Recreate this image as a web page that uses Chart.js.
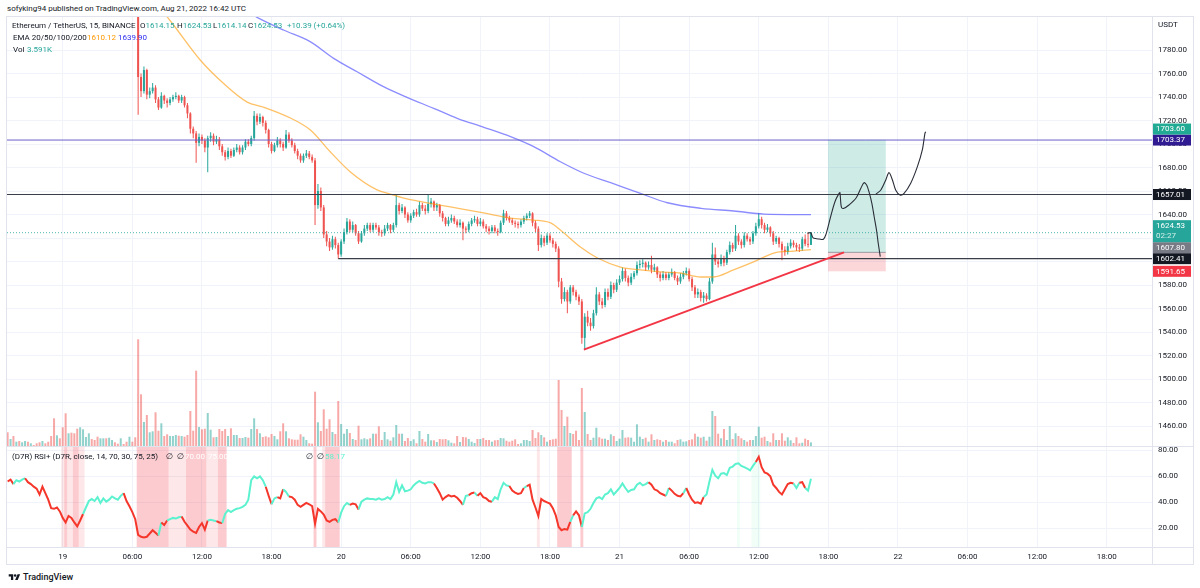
<!DOCTYPE html>
<html>
<head>
<meta charset="utf-8">
<title>ETHUSDT 15m</title>
<script src="https://cdn.jsdelivr.net/npm/chart.js@4.4.1/dist/chart.umd.min.js"></script>
<style>
  html, body { margin: 0; padding: 0; background: #fff; }
  body { position: relative; width: 1200px; height: 588px; overflow: hidden;
         font-family: Roboto, "Open Sans", "DejaVu Sans", sans-serif; color: #131722; }
  canvas { position: absolute; left: 0; }
  .txt { position: absolute; white-space: nowrap; font-size: 8px; line-height: 10px; }
  .up { color: #26a69a; }
  .sep { position: absolute; background: #e0e3eb; }
  #frame { position: absolute; left: 6px; top: 16px; width: 1188px; height: 549px;
           box-sizing: border-box; border: 1px solid #e0e3eb; }
</style>
</head>
<body>
<canvas id="main" width="1200" height="430" style="top:16px"></canvas>
<canvas id="rsi" width="1200" height="120" style="top:446px"></canvas>
<div id="frame"></div>
<div class="sep" style="left:1152px;top:16px;width:1px;height:549px"></div>
<div class="sep" style="left:6px;top:446px;width:1188px;height:1px"></div>
<div class="sep" style="left:6px;top:547px;width:1188px;height:1px"></div>

<div class="txt" style="left:7px;top:4px">sofyking94 published on TradingView.com, Aug 21, 2022 16:42 UTC</div>

<div class="txt" style="left:12px;top:21px">Ethereum / TetherUS, 15, BINANCE</div>
<div class="txt" style="left:140px;top:21px">O<span class="up">1614.15</span></div>
<div class="txt" style="left:177px;top:21px">H<span class="up">1624.53</span></div>
<div class="txt" style="left:213px;top:21px">L<span class="up">1614.14</span></div>
<div class="txt" style="left:248px;top:21px">C<span class="up">1624.53</span></div>
<div class="txt up" style="left:287px;top:21px">+10.39 (+0.64%)</div>

<div class="txt" style="left:13px;top:33px">EMA 20/50/100/200</div>
<div class="txt" style="left:87px;top:33px;color:#ff9800">1610.12</div>
<div class="txt" style="left:118px;top:33px;color:#2f2ff0">1639.90</div>

<div class="txt" style="left:13px;top:45px">Vol</div>
<div class="txt up" style="left:27px;top:45px">3.591K</div>

<div class="txt" style="left:1158px;top:20px">USDT</div>

<div class="txt" style="left:12px;top:452px">(D7R) RSI+ (D7R, close, 14, 70, 30, 75, 25)</div>
<div class="txt" style="left:166px;top:452px">&#8709;&nbsp;&nbsp;&#8709;</div>
<div class="txt" style="left:185px;top:452px;color:#fff">70.00</div>
<div class="txt" style="left:208px;top:452px;color:#fff">75.00</div>
<div class="txt" style="left:306px;top:452px">&#8709;&nbsp;&nbsp;&#8709;</div>
<div class="txt" style="left:325px;top:452px;color:#5cf2cf">58.17</div>

<svg style="position:absolute;left:8px;top:573px" width="13" height="9" viewBox="0 0 36 28">
  <path d="M14 22H7V11H0V4h14v18zM28 22h-8l7.5-18h8L28 22z" fill="#131722"/>
  <circle cx="20" cy="8" r="4" fill="#131722"/>
</svg>
<div class="txt" style="left:23px;top:572px;font-size:9px;font-weight:500">TradingView</div>

<script>
// 15 minute bars, bar 0 = Aug 18 19:15 UTC, last bar = Aug 21 16:30 UTC
const firstOpen = 1860;
const closes = [
  1858,1861,1857,1860,1858,1861,1863,1858,1859,1855,
  1852,1846,1851,1847,1842,1835,1834,1836,1832,1828,
  1823,1827,1825,1821,1817,1822,1827,1832,1837,1835,
  1833,1832,1836,1838,1835,1838,1841,1838,1836,1840,
  1837,1833,1835,1828,1822,1757,1745,1763,1742,1745,
  1748,1738,1731,1741,1737,1735,1738,1740,1741,1737,
  1740,1733,1726,1713,1709,1701,1706,1703,1697,1705,
  1707,1702,1704,1698,1693,1689,1694,1690,1695,1697,
  1693,1697,1702,1700,1705,1724,1719,1723,1718,1712,
  1700,1694,1699,1703,1700,1697,1708,1703,1699,1694,
  1690,1686,1690,1692,1689,1686,1648,1660,1646,1623,
  1617,1612,1619,1614,1606,1617,1625,1634,1627,1631,
  1624,1617,1624,1628,1631,1627,1631,1629,1625,1624,
  1628,1631,1627,1631,1648,1643,1646,1640,1635,1639,
  1642,1640,1648,1645,1643,1649,1651,1646,1648,1641,
  1637,1632,1635,1637,1634,1631,1633,1628,1627,1632,
  1635,1636,1632,1634,1630,1628,1626,1629,1626,1625,
  1633,1641,1637,1635,1633,1632,1631,1634,1637,1639,
  1641,1633,1628,1614,1620,1616,1622,1618,1615,1611,
  1583,1568,1574,1566,1578,1574,1570,1566,1535,1553,
  1548,1545,1556,1572,1566,1563,1574,1570,1580,1576,
  1582,1585,1592,1586,1582,1587,1590,1597,1598,1599,
  1595,1597,1593,1595,1589,1586,1589,1586,1589,1591,
  1586,1583,1587,1590,1592,1585,1578,1572,1574,1569,
  1571,1568,1583,1606,1600,1598,1603,1599,1608,1614,
  1611,1622,1617,1614,1622,1619,1617,1624,1630,1636,
  1631,1627,1629,1624,1617,1620,1615,1610,1608,1613,
  1616,1614,1612,1611,1619,1615,1614.15,1624.53
];
const highs = [
  1863,1864,1863,1862,1862,1863,1867,1865,1862,1861,
  1857,1853,1853,1852,1849,1843,1837,1839,1838,1834,
  1830,1829,1829,1827,1823,1824,1829,1834,1839,1840,
  1837,1835,1838,1841,1840,1840,1844,1843,1840,1842,
  1842,1839,1838,1836,1830,1826,1760,1766,1764,1748,
  1752,1750,1740,1744,1742,1739,1740,1742,1744,1742,
  1742,1741,1735,1727,1715,1711,1709,1708,1705,1707,
  1710,1709,1707,1706,1700,1695,1697,1696,1697,1700,
  1699,1699,1704,1704,1707,1728,1726,1726,1724,1720,
  1713,1702,1701,1706,1705,1702,1712,1710,1705,1701,
  1696,1692,1692,1695,1694,1691,1688,1666,1663,1648,
  1626,1620,1622,1621,1616,1619,1628,1637,1636,1634,
  1632,1626,1626,1631,1633,1633,1633,1633,1631,1627,
  1631,1633,1632,1633,1656.5,1650,1649,1647,1642,1641,
  1644,1645,1651,1650,1648,1657,1654,1652,1650,1649,
  1643,1638,1638,1640,1639,1636,1636,1634,1630,1634,
  1637,1639,1638,1637,1636,1632,1630,1631,1631,1628,
  1635,1644,1643,1639,1637,1635,1634,1636,1639,1641,
  1643,1642,1635,1630,1623,1622,1624,1624,1620,1617,
  1613,1586,1578,1576,1580,1580,1576,1572,1568,1556,
  1558,1552,1559,1578,1574,1569,1577,1577,1583,1582,
  1585,1588,1595,1594,1588,1590,1592,1600,1601,1602,
  1600,1600,1605,1598,1596,1591,1592,1591,1591,1594,
  1592,1588,1590,1592,1595,1594,1587,1580,1577,1576,
  1574,1573,1586,1616,1612,1603,1606,1605,1610,1617,
  1616,1631,1624,1619,1625,1624,1621,1626,1633,1641,
  1638,1633,1632,1630,1626,1622,1621,1617,1613,1616,
  1619,1618,1616,1615,1621,1623,1625,1624.53
];
const lows = [
  1855,1856,1855,1855,1856,1856,1859,1856,1855,1853,
  1849,1843,1844,1845,1840,1831,1830,1832,1829,1825,
  1820,1821,1822,1818,1808,1815,1820,1825,1830,1833,
  1831,1829,1830,1834,1833,1833,1836,1836,1834,1834,
  1835,1830,1831,1825,1818,1725,1740,1743,1738,1739,
  1743,1735,1729,1730,1734,1731,1733,1736,1738,1735,
  1735,1731,1722,1709,1705,1684,1698,1700,1693,1676,
  1702,1699,1700,1695,1690,1686,1687,1688,1689,1693,
  1691,1691,1695,1698,1698,1703,1716,1717,1715,1709,
  1697,1692,1693,1697,1697,1694,1696,1701,1697,1692,
  1687,1684,1684,1688,1687,1684,1631,1645,1643,1620,
  1613,1609,1610,1611,1602.4,1604,1615,1623,1625,1625,
  1622,1615,1616,1622,1626,1625,1625,1627,1622,1621,
  1622,1626,1624,1625,1629,1640,1641,1637,1633,1633,
  1637,1638,1638,1643,1640,1641,1646,1643,1643,1638,
  1634,1630,1630,1633,1632,1629,1629,1618,1624,1625,
  1630,1633,1630,1630,1628,1625,1623,1624,1624,1622,
  1624,1631,1635,1633,1631,1629,1628,1629,1632,1635,
  1637,1630,1625,1609,1612,1613,1614,1616,1612,1608,
  1578,1564,1566,1556,1564,1571,1567,1563,1530,1525,
  1545,1541,1543,1554,1563,1560,1561,1567,1568,1573,
  1574,1580,1583,1583,1579,1580,1585,1588,1594,1595,
  1592,1593,1590,1591,1586,1583,1584,1584,1584,1587,
  1584,1580,1581,1585,1588,1583,1575,1569,1569,1566,
  1565,1566,1567,1581,1597,1595,1596,1596,1597,1606,
  1608,1609,1614,1611,1612,1617,1614,1615,1622,1628,
  1628,1624,1625,1621,1614,1615,1612,1601,1605,1606,
  1611,1612,1609,1608,1609,1613,1612,1614.14
];
// volume in thousands of ETH
const volumes = [
  13.7,7,10,4.3,5,3.7,5,4.3,2.7,1,
  2.7,3.7,5,2.7,4.3,10,27.7,10.7,7.7,18.7,
  32.7,12.7,13.3,12.7,17.3,18.7,16.7,9,12.7,7,
  6,9.3,7.7,7.7,7.7,8.3,6,3.7,2.3,7.7,
  2,4.3,9.3,4.3,8.7,106.7,51.7,24,31,13.7,
  14.7,33.7,15.3,22.7,10,11.7,10,10,11,10.3,
  10,9.3,11,35,15.3,75.3,19,16.7,17.3,33,
  16.3,8.7,9,17,15,17,10,17.7,11,11,
  8,8,9,8.3,17,27.7,17,12.7,9,9.7,
  8.7,12,10,6.7,14.7,22.7,14.7,7.7,6.7,6.3,
  6.3,11.7,9.3,6,2.7,2.3,54.3,23.7,15,36.7,
  17.3,26.7,14,12,45,22,12.3,17,13,7,
  6,20.3,6.7,7.7,6.7,7.7,12.3,12.3,19.7,6,
  14,6.7,5.3,8.7,21,12.3,12.3,5,8,5,
  6.7,2.7,15,7,4.3,12,5.7,5.7,4,7,
  6.7,7,5.7,3.3,2.7,10,4,9,8.7,7,
  4.3,3,7,7,8,6,6,4.3,5.7,6,
  8,7.7,5.3,4.3,5.3,6.7,2,2.7,6,6,
  5,16,8,13.7,11,8.7,4.3,6,6.7,7.3,
  66,36,20,29.3,13,12,15.3,6,58,34,
  12,6,8.3,18.3,8.7,7.3,7.3,6,11.7,10,
  5,7.3,16,8.3,8.7,8.3,4.3,21.7,9.3,7,
  8.3,4.3,11.7,6,6.7,6,4.3,6,4.3,4.3,
  2.7,6,6.7,4.3,4.7,6,6.7,12.3,9.3,8.3,
  9.3,5.3,9.3,35,30,12.3,7.7,17,6,20,
  7,12.7,10,7.7,6,4.3,6,6,10,19.3,
  8.3,9.3,5,3.7,12.7,6,6,12.7,5.3,8.7,
  5.7,3,8.7,2.7,3.3,7.3,6,3.591
];
const rsiValues = [
  56,57.5,54,57,56,57.5,58.5,55.5,54,52,
  50.5,46,52,47,42,35.5,35,36,33,28,
  24.5,29.5,28,24.5,21.5,26,31,36,41,42.5,
  41,44,39.5,43,40.5,42,44.5,43,42,45,
  47,41,37,32.5,27,15,13.5,13,13.5,16,
  18.5,16.5,14.5,24.5,22.5,26,27,28,27.5,28.5,
  29,25,22,19,17.5,16.5,21,24,19,26,
  26.5,26,25.5,24.5,24,31,34,32.5,34,35,
  35.5,36.5,38,42,57,60,58.5,60,57,52,
  45,38.5,43,44,43,50,48,44.5,44,42,
  38,36.5,38,39.5,38.5,37,23.5,35,33,30.5,
  26,25,26.5,27,24.5,32,37,39.5,38,39,
  38.5,34.5,40.5,42,43,42.5,42.5,42,43,42,
  42.5,44,42.5,46,55.5,48,53,48.5,49,50,
  53,55,56.5,55,54.5,55.5,55.5,54.5,51,47,
  42,44,45.5,44.5,45,43.5,41,38,45,45.5,
  47,47.5,45,47,44,43,41,40.5,44,42.5,
  50,55,53,52.5,49,47.5,46.5,47,51,52.5,
  53.5,42,36,29.5,42.5,41,40,39,35.5,30,
  21,18.5,19.5,19,25,30,33,30,21,31.5,
  32.5,35,39.5,43,44,42.5,46,47,50,46,
  48.5,51,54.5,51,48,49.5,50,53.5,55,53,
  54,55.5,53.5,50,49,47,46,45,51,49,
  46.5,45,44.5,47,51,46,42,39.5,40,39,
  44,46,56,65,60.5,58.5,62,62.5,61,66.5,
  67.5,69.5,70,68,67,66,64.5,68,71,75,
  67,63,62,60,53.5,51,48,46,50,54,
  55,54.5,51,55,55.5,51,49,58.17
];
// bar ranges where the RSI line is drawn red (falling)
const rsiRedRanges = [[1,2],[7,26],[41,52],[54,55],[61,66],[67,69],[73,74],[90,91],[94,95],
  [98,114],[119,121],[148,157],[160,161],[163,167],[174,178],[180,194],[196,198],
  [222,227],[229,233],[235,240],[259,271],[274,275]];
// highlighted RSI zones: [first bar, last bar, kind] 1 = light red, 2 = red, 3 = light green
const rsiBands = [[19,19,1],[20,20,2],[21,22,1],[23,24,2],[25,26,1],[45,55,2],[56,61,1],
  [62,68,2],[69,72,1],[73,75,2],[106,106,2],[109,109,1],[110,114,2],[183,183,1],
  [190,194,2],[198,198,2],[252,252,3],[257,259,3]];

// moving averages: [bar, price]
const emaFast = [[52.6,1815.7],[57.2,1801.3],[66.4,1771.5],[74.3,1751.9],[82.6,1735.7],[88.1,1731.5],
  [97.5,1722.1],[104.4,1711.9],[111.3,1693.2],[118.2,1676.2],[127.4,1660.9],[132.0,1657.4],
  [137.7,1653.2],[143.3,1650.6],[152.7,1646.4],[164.1,1641.3],[173.4,1637.0],[181.3,1635.3],
  [187.2,1632.8],[190.6,1626.8],[197.5,1612.3],[203.4,1603.0],[211.3,1595.3],[218.2,1592.8],
  [225.1,1591.1],[232.0,1590.2],[238.9,1586.8],[243.4,1586.8],[250.3,1592.8],[257.2,1599.6],
  [264.2,1607.2],[271.0,1608.9],[277,1610.12]];
const emaSlow = [[81.9,1813.6],[86.0,1807.8],[95.1,1797.0],[104.3,1787.1],[112.4,1772.9],[120.5,1761.5],
  [129.6,1748.8],[137.7,1739.7],[146.9,1730.4],[155.0,1721.9],[164.2,1714.2],[173.4,1706.2],
  [181.4,1697.7],[190.6,1684.9],[198.7,1675.1],[207.9,1667.1],[218.2,1658.0],[227.5,1650.0],
  [239.1,1645.3],[250.4,1643.0],[260.8,1640.4],[277,1639.9]];

// drawings
const trendLine = [[198.7,1525.0],[288.4,1607.8]];
const brushA = [[275.8,1624.0],[276.9,1624.5],[277.5,1621.1],[278.0,1619.7],[279.8,1619.1],[281.3,1618.9],
  [282.1,1622.6],[283.2,1632.5],[284.4,1643.8],[285.5,1652.3],[286.7,1658.0],[287.0,1658.6],
  [287.3,1649.5],[287.6,1645.8],[288.4,1645.3],[290.1,1648.1],[292.5,1653.8],[294.2,1662.3],
  [295.3,1667.1],[296.2,1665.1],[297.0,1659.4],[298.0,1649.5],[298.8,1638.1],[299.6,1626.8],
  [300.2,1615.5],[300.9,1604.1]];
const brushB = [[299.4,1657.4],[301.1,1660.9],[302.8,1669.4],[303.9,1675.6],[305.1,1669.4],[306.2,1660.9],
  [307.7,1656.6],[309.1,1658.0],[311.4,1666.6],[313.7,1680.7],[315.4,1694.9],[316.3,1709.1],[316.6,1710.5]];
const resistanceA = 1703.37;
const resistanceB = 1657.01;
const supportLevel = 1602.41;
const supportStartBar = 114;
const lastPrice = 1624.53;
const positionBars = [282.9, 302.8];
const positionStop = 1591.65, positionEntry = 1607.80, positionTarget = 1703.60;

const priceTicks = [1460,1480,1500,1520,1540,1560,1580,1600,1620,1640,1660,1680,1700,1720,1740,1760,1780];
const rsiTicks = [20,40,60,80];
const timeTickBars = [19,43,67,91,115,139,163,187,211,235,259,283,307,331,355,379];
const timeTickLabels = ['19','06:00','12:00','18:00','20','06:00','12:00','18:00','21','06:00','12:00','18:00','22','06:00','12:00','18:00'];

const axisTags = [
  { price: 1703.60, text: '1703.60', bg: '#22ab94' },
  { price: 1703.37, text: '1703.37', bg: '#311b92' },
  { price: 1657.01, text: '1657.01', bg: '#131722' },
  { price: 1624.53, text: '1624.53', sub: '02:27', bg: '#26a69a' },
  { price: 1607.80, text: '1607.80', bg: '#787b86' },
  { price: 1602.41, text: '1602.41', bg: '#131722' },
  { price: 1591.65, text: '1591.65', bg: '#f23645' }
];

const UP = '#26a69a', DOWN = '#ef5350';
const GRID = '#f0f3fa', TEXT = '#131722';
const RSI_UP = '#5cf2cf', RSI_DOWN = '#f5362b';
const xMin = -0.22, xMax = 394.6;

Chart.defaults.font.family = 'Roboto, "Open Sans", sans-serif';
Chart.defaults.font.size = 8;

const xy = pts => pts.map(([x, y]) => ({ x, y }));
const opens = closes.map((c, i) => i ? closes[i - 1] : firstOpen);
const rising = closes.map((c, i) => c >= opens[i]);
const isRsiRed = i => rsiRedRanges.some(([a, b]) => i >= a && i <= b);

const lineStyle = { type: 'line', pointRadius: 0, clip: 0, fill: false };

const positionBox = {
  id: 'positionBox',
  beforeDatasetsDraw(chart) {
    const { ctx, scales: { x, y } } = chart;
    const l = x.getPixelForValue(positionBars[0]);
    const r = x.getPixelForValue(positionBars[1]);
    const yT = y.getPixelForValue(positionTarget);
    const yE = y.getPixelForValue(positionEntry);
    const yS = y.getPixelForValue(positionStop);
    ctx.save();
    ctx.fillStyle = 'rgba(8,153,129,0.2)';
    ctx.fillRect(l, yT, r - l, yE - yT);
    ctx.fillStyle = 'rgba(242,54,69,0.2)';
    ctx.fillRect(l, yE, r - l, yS - yE);
    ctx.strokeStyle = 'rgba(120,123,134,0.7)';
    ctx.lineWidth = 1;
    ctx.beginPath();
    ctx.moveTo(l, yE);
    ctx.lineTo(r, yE);
    ctx.stroke();
    ctx.restore();
  }
};

const axisTagPlugin = {
  id: 'axisTags',
  afterDraw(chart) {
    const { ctx, chartArea, scales: { y } } = chart;
    const tags = axisTags.slice().sort((a, b) => a.price - b.price);
    let prevTop = Infinity;
    ctx.save();
    ctx.font = '8px Roboto, "Open Sans", sans-serif';
    ctx.textBaseline = 'middle';
    ctx.textAlign = 'left';
    for (const t of tags) {
      const h = t.sub ? 22 : 11;
      const cy = y.getPixelForValue(t.price);
      const top = Math.min(cy - 5.5, prevTop - h);
      prevTop = top;
      const left = chartArea.right;
      ctx.fillStyle = t.bg;
      ctx.fillRect(left, top, 39, h);
      ctx.fillStyle = '#fff';
      ctx.fillText(t.text, left + 4, top + 5.8);
      if (t.sub) {
        ctx.fillStyle = 'rgba(255,255,255,0.8)';
        ctx.fillText(t.sub, left + 4, top + 16);
      }
    }
    ctx.restore();
  }
};

const rsiBandPlugin = {
  id: 'rsiBands',
  beforeDatasetsDraw(chart) {
    const { ctx, chartArea: a, scales: { x } } = chart;
    const colors = { 1: 'rgba(242,54,69,0.12)', 2: 'rgba(242,54,69,0.26)', 3: 'rgba(0,230,118,0.06)' };
    ctx.save();
    for (const [s, e, kind] of rsiBands) {
      const l = x.getPixelForValue(s - 0.5);
      const r = x.getPixelForValue(e + 0.5);
      ctx.fillStyle = colors[kind];
      ctx.fillRect(l, a.top, r - l, a.bottom - a.top);
    }
    ctx.restore();
  }
};

new Chart(document.getElementById('main'), {
  type: 'bar',
  data: {
    datasets: [
      { ...lineStyle, label: 'brush 1', data: xy(brushA), borderColor: '#2a2e39', borderWidth: 1.1, tension: 0.3, order: 0 },
      { ...lineStyle, label: 'brush 2', data: xy(brushB), borderColor: '#2a2e39', borderWidth: 1.1, tension: 0.3, order: 0 },
      { ...lineStyle, label: 'trend', data: xy(trendLine), borderColor: '#f23645', borderWidth: 2, order: 1 },
      { ...lineStyle, label: 'res A', data: [{ x: xMin, y: resistanceA }, { x: xMax, y: resistanceA }], borderColor: '#6a60c8', borderWidth: 1, order: 2 },
      { ...lineStyle, label: 'res B', data: [{ x: xMin, y: resistanceB }, { x: xMax, y: resistanceB }], borderColor: '#3a3e48', borderWidth: 1.2, order: 2 },
      { ...lineStyle, label: 'support', data: [{ x: supportStartBar, y: supportLevel }, { x: xMax, y: supportLevel }], borderColor: '#3a3e48', borderWidth: 1.2, order: 2 },
      { ...lineStyle, label: 'last', data: [{ x: xMin, y: lastPrice }, { x: xMax, y: lastPrice }], borderColor: 'rgba(38,166,154,0.8)', borderWidth: 1, borderDash: [1, 2], order: 2 },
      { ...lineStyle, label: 'EMA fast', data: xy(emaFast), borderColor: 'rgba(255,152,0,0.6)', borderWidth: 1.3, cubicInterpolationMode: 'monotone', order: 3 },
      { ...lineStyle, label: 'EMA slow', data: xy(emaSlow), borderColor: 'rgba(45,45,255,0.55)', borderWidth: 1.3, cubicInterpolationMode: 'monotone', order: 3 },
      { type: 'bar', label: 'bodies', order: 4, grouped: false, barThickness: 2, inflateAmount: 0, clip: 0,
        data: closes.map((c, i) => ({ x: i, y: [Math.min(c, opens[i]), Math.max(c, opens[i])] })),
        backgroundColor: rising.map(u => u ? UP : DOWN) },
      { type: 'bar', label: 'wicks', order: 5, grouped: false, barThickness: 1, inflateAmount: 0, clip: 0,
        data: closes.map((c, i) => ({ x: i, y: [lows[i], highs[i]] })),
        backgroundColor: rising.map(u => u ? UP : DOWN) },
      { type: 'bar', label: 'volume', order: 6, yAxisID: 'yVol', grouped: false, barThickness: 2, inflateAmount: 0, clip: 0,
        data: volumes.map((v, i) => ({ x: i, y: v })),
        backgroundColor: rising.map(u => u ? 'rgba(38,166,154,0.5)' : 'rgba(239,83,80,0.5)') }
    ]
  },
  options: {
    responsive: false, animation: false, events: [], devicePixelRatio: 1,
    layout: { padding: { left: 7, right: 0, top: 0, bottom: 0 } },
    plugins: { legend: { display: false }, tooltip: { enabled: false } },
    scales: {
      x: {
        type: 'linear', min: xMin, max: xMax, offset: false,
        afterBuildTicks: s => { s.ticks = timeTickBars.map(v => ({ value: v })); },
        afterFit: s => { s.height = 0; },
        ticks: { display: false },
        grid: { color: GRID, drawTicks: false, offset: false },
        border: { display: false }
      },
      y: {
        type: 'linear', position: 'right', min: 1442.98, max: 1808.94, beginAtZero: false,
        afterBuildTicks: s => { s.ticks = priceTicks.map(v => ({ value: v })); },
        afterFit: s => { s.width = 48; s.paddingTop = 0; s.paddingBottom = 0; },
        ticks: { padding: 6, color: TEXT, callback: v => v.toFixed(2) },
        grid: { color: GRID, drawTicks: false },
        border: { display: false }
      },
      yVol: { type: 'linear', display: false, min: 0, max: 430 }
    }
  },
  plugins: [positionBox, axisTagPlugin]
});

new Chart(document.getElementById('rsi'), {
  type: 'line',
  data: {
    datasets: [{
      label: 'RSI', data: rsiValues.map((v, i) => ({ x: i, y: v })),
      borderColor: RSI_UP, borderWidth: 2, pointRadius: 0, clip: 0,
      segment: { borderColor: c => isRsiRed(c.p1DataIndex) ? RSI_DOWN : RSI_UP }
    }]
  },
  options: {
    responsive: false, animation: false, events: [], devicePixelRatio: 1,
    layout: { padding: { left: 7, right: 0, top: 0, bottom: 0 } },
    plugins: { legend: { display: false }, tooltip: { enabled: false } },
    scales: {
      x: {
        type: 'linear', min: xMin, max: xMax, offset: false,
        afterBuildTicks: s => { s.ticks = timeTickBars.map(v => ({ value: v })); },
        afterFit: s => { s.height = 19; s.paddingLeft = 0; s.paddingRight = 0; },
        ticks: { autoSkip: false, maxRotation: 0, padding: 5, color: TEXT, callback: (v, i) => timeTickLabels[i] },
        grid: { color: GRID, drawTicks: false, offset: false },
        border: { display: false }
      },
      y: {
        type: 'linear', position: 'right', min: 5.62, max: 83.31,
        afterBuildTicks: s => { s.ticks = rsiTicks.map(v => ({ value: v })); },
        afterFit: s => { s.width = 48; s.paddingTop = 0; s.paddingBottom = 0; },
        ticks: { padding: 6, color: TEXT, callback: v => v.toFixed(2) },
        grid: { color: GRID, drawTicks: false },
        border: { display: false }
      }
    }
  },
  plugins: [rsiBandPlugin]
});
</script>
</body>
</html>
